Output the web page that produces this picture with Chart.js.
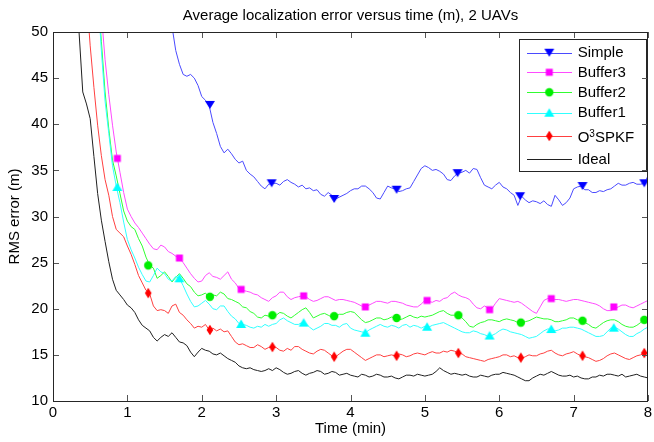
<!DOCTYPE html>
<html>
<head>
<meta charset="utf-8">
<script src="https://cdn.jsdelivr.net/npm/chart.js@4.4.1/dist/chart.umd.min.js"></script>
<style>
  html, body { margin: 0; padding: 0; background: #fff; }
  #wrap { width: 654px; height: 442px; }
</style>
</head>
<body>
<div id="wrap"><canvas id="errChart" width="654" height="442"></canvas></div>
<script>
// time axis (min)
const times = [0, 0.05, 0.1, 0.15, 0.2, 0.25, 0.3, 0.35, 0.4, 0.45,
  0.5, 0.55, 0.6, 0.65, 0.7, 0.75, 0.8, 0.85, 0.9, 0.95,
  1, 1.05, 1.1, 1.15, 1.2, 1.25, 1.3, 1.35, 1.4, 1.45,
  1.5, 1.55, 1.6, 1.65, 1.7, 1.75, 1.8, 1.85, 1.9, 1.95,
  2, 2.05, 2.1, 2.15, 2.2, 2.25, 2.3, 2.35, 2.4, 2.45,
  2.5, 2.55, 2.6, 2.65, 2.7, 2.75, 2.8, 2.85, 2.9, 2.95,
  3, 3.05, 3.1, 3.15, 3.2, 3.25, 3.3, 3.35, 3.4, 3.45,
  3.5, 3.55, 3.6, 3.65, 3.7, 3.75, 3.8, 3.85, 3.9, 3.95,
  4, 4.05, 4.1, 4.15, 4.2, 4.25, 4.3, 4.35, 4.4, 4.45,
  4.5, 4.55, 4.6, 4.65, 4.7, 4.75, 4.8, 4.85, 4.9, 4.95,
  5, 5.05, 5.1, 5.15, 5.2, 5.25, 5.3, 5.35, 5.4, 5.45,
  5.5, 5.55, 5.6, 5.65, 5.7, 5.75, 5.8, 5.85, 5.9, 5.95,
  6, 6.05, 6.1, 6.15, 6.2, 6.25, 6.3, 6.35, 6.4, 6.45,
  6.5, 6.55, 6.6, 6.65, 6.7, 6.75, 6.8, 6.85, 6.9, 6.95,
  7, 7.05, 7.1, 7.15, 7.2, 7.25, 7.3, 7.35, 7.4, 7.45,
  7.5, 7.55, 7.6, 7.65, 7.7, 7.75, 7.8, 7.85, 7.9, 7.95, 8];

// RMS error (m)
const simple = [200, 192, 185, 178, 170, 162, 155, 148, 140, 132,
  125, 118, 112, 106, 100, 95, 90, 86, 82, 78,
  75, 72, 69, 66.5, 64, 62, 60, 58, 56.5, 55,
  53.5, 52, 50.6, 48.0, 46.5, 45.4, 45.2, 45.4, 45.0, 44.2,
  43.0, 42.6, 42.0, 40.2, 39.0, 37.6, 36.9, 37.3, 36.8, 36.2,
  35.8, 36.0, 35.0, 34.6, 34.3, 33.8, 33.3, 33.0, 33.5, 33.6,
  33.6, 33.4, 33.8, 34.0, 33.7, 33.5, 33.2, 33.4, 33.0, 33.1,
  32.8, 32.9, 32.4, 32.2, 32.6, 32.3, 31.9, 32.1, 32.3, 32.5,
  32.8, 33.0, 33.0, 33.3, 33.3, 33.0, 32.6, 32.0, 31.9, 32.6,
  33.3, 33.1, 33.0, 32.7, 32.8, 33.0, 33.1, 33.8, 34.5, 35.2,
  35.5, 35.3, 35.0, 35.1, 34.9, 34.6, 34.0, 33.9, 34.4, 34.7,
  34.8, 35.0, 34.7, 35.2, 35.1, 34.2, 33.4, 33.2, 33.0, 33.4,
  33.7, 33.2, 33.0, 32.6, 32.3, 31.2, 32.2, 31.8, 31.5, 31.7,
  31.6, 31.4, 31.7, 31.3, 31.1, 32.3, 31.8, 31.2, 31.5, 32.0,
  33.0, 33.2, 33.3, 32.9, 32.9, 32.6, 32.6, 32.8, 32.7, 32.9,
  33.0, 33.3, 33.6, 33.4, 33.4, 33.6, 33.7, 33.5, 33.5, 33.6, 34.4];

const buffer3 = [125, 120, 115, 109, 103, 97, 91, 85, 79, 73.5,
  68, 62.5, 57, 52, 47, 43.2, 39.9, 37.0, 34.8, 32.6,
  30.8, 30.0, 29.3, 28.8, 28.2, 27.6, 27.0, 26.5, 26.4, 26.9,
  26.7, 26.2, 26.0, 25.7, 25.5, 25.0, 24.4, 23.8, 23.3, 22.9,
  23.0, 23.6, 23.9, 23.5, 23.4, 23.2, 23.6, 24.0, 23.2, 22.8,
  22.2, 22.0, 21.9, 21.8, 21.6, 21.5, 21.2, 21.0, 20.8, 21.2,
  21.4, 21.8, 21.8, 21.3, 21.0, 21.2, 21.3, 21.4, 21.3, 21.0,
  20.8, 20.9, 21.1, 21.3, 21.3, 21.1, 20.9, 21.0, 21.0, 20.9,
  20.8, 20.7, 20.5, 20.3, 20.2, 20.4, 20.6, 20.8, 20.8, 20.7,
  20.6, 20.8, 20.8, 20.7, 20.6, 20.4, 20.3, 20.2, 20.2, 20.5,
  20.9, 20.8, 20.7, 20.9, 20.8, 21.1, 21.2, 21.6, 21.8, 21.5,
  21.3, 21.2, 21.0, 20.5, 20.1, 20.0, 20.3, 20.1, 20.0, 20.6,
  21.1, 21.0, 20.9, 20.8, 20.7, 20.8, 20.6, 20.3, 20.0, 19.7,
  19.5, 20.2, 20.9, 21.1, 21.1, 21.0, 21.0, 20.9, 20.8, 20.9,
  21.0, 21.0, 20.9, 20.8, 20.7, 20.6, 20.5, 20.3, 20.0, 19.8,
  19.8, 20.0, 20.2, 20.4, 20.4, 20.2, 20.1, 20.3, 20.5, 20.7, 20.9];

const buffer2 = [120, 115, 110, 104, 98, 92, 86, 80, 74, 69,
  64, 59, 54.5, 49.0, 43.5, 39.5, 36.1, 34.4, 32.5, 30.6,
  29.5, 28.9, 28.6, 27.6, 26.8, 25.6, 24.7, 24.4, 23.3, 23.6,
  24.0, 23.5, 22.9, 23.4, 23.8, 23.3, 22.7, 22.4, 21.8, 21.4,
  21.5, 21.7, 21.2, 21.5, 21.4, 21.8, 21.6, 21.1, 21.0, 20.8,
  20.6, 20.2, 20.1, 19.7, 19.5, 19.1, 19.0, 19.3, 19.2, 19.4,
  19.3, 19.6, 19.5, 19.2, 19.0, 19.3, 19.6, 19.9, 20.1, 19.6,
  19.0, 19.2, 19.4, 19.5, 19.3, 19.1, 19.2, 19.4, 19.4, 19.6,
  19.7, 19.6, 19.2, 18.8, 18.5, 18.6, 18.8, 19.0, 19.0, 18.8,
  18.9, 19.1, 19.0, 18.8, 18.9, 19.1, 19.3, 19.1, 19.0, 19.2,
  19.1, 19.2, 19.3, 19.5, 19.7, 19.8, 19.5, 19.3, 19.3, 19.4,
  19.0, 18.6, 18.1, 18.0, 18.3, 18.5, 18.6, 18.8, 18.8, 18.7,
  18.6, 18.8, 18.9, 18.8, 18.7, 18.5, 18.4, 18.6, 18.7, 18.9,
  19.1, 19.0, 18.9, 18.9, 18.8, 18.6, 18.6, 18.7, 18.8, 19.0,
  19.0, 18.8, 18.7, 18.5, 18.3, 18.0, 17.9, 18.2, 18.5, 18.7,
  18.8, 18.8, 18.6, 18.3, 18.1, 18.0, 18.0, 18.2, 18.5, 18.8, 18.9];

const buffer1 = [120, 115, 110, 104, 98, 92, 86, 80, 74, 69,
  64, 59, 54.5, 48.0, 42.5, 39.0, 35.5, 33.3, 31.5, 29.4,
  27.5, 26.4, 25.5, 24.5, 23.7, 23.0, 22.9, 23.6, 24.4, 24.0,
  23.8, 23.2, 23.0, 23.5, 23.3, 22.5, 21.6, 20.8, 20.2, 20.3,
  20.6, 20.9, 20.5, 20.0, 19.9, 20.3, 20.3, 19.7, 19.2, 18.9,
  18.4, 18.3, 18.2, 18.0, 17.9, 18.1, 18.0, 18.3, 18.1, 18.3,
  18.4, 18.8, 19.0, 18.7, 18.5, 18.3, 18.3, 18.5, 18.4, 18.0,
  17.7, 17.9, 18.1, 18.4, 18.4, 18.2, 18.2, 18.0, 18.3, 18.4,
  17.9, 17.7, 17.6, 17.5, 17.4, 17.7, 17.9, 18.1, 18.3, 18.1,
  18.0, 18.2, 18.1, 17.9, 18.2, 18.3, 18.0, 18.2, 18.1, 17.9,
  18.1, 18.0, 18.2, 18.3, 18.4, 18.5, 18.3, 18.1, 17.9, 17.7,
  17.5, 17.4, 17.4, 17.6, 17.5, 17.3, 17.2, 17.0, 17.1, 17.3,
  17.6, 17.8, 17.7, 17.5, 17.4, 17.3, 17.2, 17.0, 16.8, 16.9,
  17.0, 17.3, 17.6, 17.8, 17.8, 17.6, 17.7, 17.9, 17.9, 18.0,
  18.0, 17.9, 17.8, 17.6, 17.4, 17.2, 17.0, 17.0, 17.1, 17.5,
  17.9, 18.0, 17.8, 17.5, 17.2, 17.0, 17.0, 17.3, 17.5, 17.8, 18.0];

const o3spkf = [110, 104, 98, 91, 85, 78, 72, 66, 60, 54,
  48.5, 44.0, 39.9, 36.6, 34.0, 32.3, 30.0, 28.6, 28.2, 27.8,
  26.8, 25.9, 24.8, 23.6, 22.8, 22.0, 21.6, 20.3, 19.8, 19.9,
  19.8, 19.5, 20.3, 20.5, 19.6, 19.3, 18.8, 18.4, 17.9, 18.1,
  18.0, 18.3, 17.7, 17.9, 17.6, 17.8, 17.5, 17.6, 17.0, 16.4,
  16.1, 16.2, 16.0, 15.8, 15.8, 16.1, 15.9, 15.6, 15.8, 15.9,
  15.8, 15.5, 15.4, 15.7, 15.5, 15.9, 15.9, 15.6, 15.4, 15.2,
  15.1, 15.4, 15.6, 15.5, 15.2, 14.9, 14.8, 15.1, 15.4, 15.6,
  15.6, 15.3, 15.0, 14.7, 14.4, 14.6, 14.8, 15.0, 15.0, 14.8,
  14.9, 15.0, 14.9, 15.1, 15.0, 14.8, 14.9, 15.1, 15.2, 15.1,
  15.0, 15.2, 15.35, 15.2, 15.2, 15.4, 15.3, 15.5, 15.4, 15.2,
  15.1, 14.8, 14.7, 14.6, 14.5, 14.4, 14.3, 14.5, 14.6, 14.7,
  14.8, 15.0, 15.0, 14.8, 14.9, 14.7, 14.6, 14.8, 15.0, 14.9,
  14.9, 15.1, 15.2, 15.4, 15.5, 15.2, 15.0, 14.9, 15.1, 15.2,
  15.35, 15.1, 14.9, 14.8, 14.7, 14.5, 14.3, 14.4, 14.6, 14.9,
  15.1, 15.2, 15.0, 14.8, 14.6, 14.5, 14.7, 14.9, 15.0, 15.2, 15.3];

const ideal = [95, 88, 82, 76, 70, 64, 58, 50, 43.5, 42.2,
  40.6, 36.5, 32.5, 29.6, 27.3, 25.1, 23.2, 22.0, 21.5, 21.0,
  20.4, 20.1, 19.6, 18.8, 18.2, 17.9, 17.6, 16.9, 16.5, 16.9,
  17.2, 17.0, 17.4, 16.9, 16.4, 16.3, 16.0, 15.3, 14.8, 15.3,
  15.7, 15.5, 15.4, 15.1, 15.0, 15.2, 14.9, 14.6, 14.4, 14.2,
  13.8, 13.6, 13.5, 13.6, 13.4, 13.3, 13.2, 13.3, 13.5, 13.3,
  13.6, 13.4, 13.1, 12.9, 13.0, 13.2, 13.3, 13.0, 12.8, 13.0,
  13.1, 13.3, 13.2, 12.9, 13.0, 13.2, 13.1, 12.8, 12.9, 13.0,
  12.8, 12.7, 12.6, 12.9, 12.8, 12.6, 12.7, 12.9, 12.8, 12.6,
  12.6, 12.7, 12.5, 12.4, 12.6, 12.8, 12.8, 12.7, 12.9, 12.8,
  12.7, 12.8, 12.9, 13.2, 13.6, 13.3, 13.1, 12.9, 13.0, 12.9,
  12.8, 12.9, 12.7, 12.6, 12.6, 12.8, 12.7, 12.6, 12.8, 12.9,
  12.9, 13.1, 13.0, 12.9, 12.8, 12.6, 12.4, 12.2, 12.2, 12.5,
  12.7, 12.9, 12.8, 13.0, 13.2, 13.0, 12.8, 12.7, 12.7, 12.8,
  12.6, 12.7, 12.5, 12.4, 12.4, 12.6, 12.6, 12.8, 12.7, 12.9,
  12.9, 12.8, 12.7, 12.9, 12.6, 12.7, 12.8, 12.9, 12.7, 12.6, 12.5];

// marker positions (every ~0.83 min along each curve)
const simpleMarkT = [2.11, 2.94, 3.78, 4.62, 5.44, 6.28, 7.12, 7.95];
const simpleMarkV = [42.1, 33.6, 31.9, 32.9, 34.7, 32.2, 33.3, 33.6];
const buffer3MarkT = [0.865, 1.70, 2.53, 3.37, 4.20, 5.03, 5.87, 6.70, 7.54];
const buffer3MarkV = [36.3, 25.5, 22.1, 21.4, 20.2, 20.9, 19.9, 21.1, 20.2];
const buffer2MarkT = [1.28, 2.11, 2.95, 3.78, 4.62, 5.45, 6.29, 7.12, 7.95];
const buffer2MarkV = [24.7, 21.3, 19.3, 19.2, 19.0, 19.3, 18.5, 18.7, 18.8];
const buffer1MarkT = [0.865, 1.70, 2.53, 3.37, 4.20, 5.03, 5.87, 6.70, 7.54];
const buffer1MarkV = [33.2, 23.3, 18.35, 18.5, 17.4, 18.05, 17.1, 17.8, 17.95];
const o3spkfMarkT = [1.28, 2.11, 2.95, 3.78, 4.62, 5.45, 6.29, 7.12, 7.95];
const o3spkfMarkV = [21.7, 17.7, 15.85, 14.8, 14.9, 15.2, 14.7, 14.9, 15.2];

const xTickValues = [0, 1, 2, 3, 4, 5, 6, 7, 8];
const yTickValues = [10, 15, 20, 25, 30, 35, 40, 45, 50];

const titleText = 'Average localization error versus time (m), 2 UAVs';
const FONT = '"Liberation Sans", Arial, Helvetica, sans-serif';

// small canvases used as marker glyphs (shared by plot and legend)
function makeMarker(shape, color) {
  const c = document.createElement('canvas');
  c.width = 12; c.height = 12;
  const g = c.getContext('2d');
  g.fillStyle = color;
  g.beginPath();
  if (shape === 'tdown') {
    g.moveTo(1, 2); g.lineTo(11, 2); g.lineTo(6, 10);
  } else if (shape === 'tup') {
    g.moveTo(6, 1.5); g.lineTo(11, 10); g.lineTo(1, 10);
  } else if (shape === 'square') {
    g.rect(2.5, 2.5, 7, 7);
  } else if (shape === 'circle') {
    g.arc(6, 6, 4.2, 0, Math.PI * 2);
  } else if (shape === 'diamond') {
    g.moveTo(6, 0.8); g.lineTo(9.3, 6); g.lineTo(6, 11.2); g.lineTo(2.7, 6);
  }
  g.closePath();
  g.fill();
  return c;
}

const series = [
  { name: 'Simple', data: simple, line: '#4a4aff', markT: simpleMarkT, markV: simpleMarkV, marker: makeMarker('tdown', '#0000ff') },
  { name: 'Buffer3', data: buffer3, line: '#ff4aff', markT: buffer3MarkT, markV: buffer3MarkV, marker: makeMarker('square', '#ff00ff') },
  { name: 'Buffer2', data: buffer2, line: '#30ff30', markT: buffer2MarkT, markV: buffer2MarkV, marker: makeMarker('circle', '#00ee00') },
  { name: 'Buffer1', data: buffer1, line: '#30ffff', markT: buffer1MarkT, markV: buffer1MarkV, marker: makeMarker('tup', '#00ffff') },
  { name: 'O3SPKF', data: o3spkf, line: '#ff4040', markT: o3spkfMarkT, markV: o3spkfMarkV, marker: makeMarker('diamond', '#ff0000') },
  { name: 'Ideal', data: ideal, line: '#202020', markT: [], markV: [], marker: null }
];

const datasets = [];
series.forEach((s, k) => {
  datasets.push({
    type: 'line',
    label: s.name,
    data: times.map((t, i) => ({ x: t, y: s.data[i] })),
    borderColor: s.line,
    borderWidth: 1,
    pointRadius: 0,
    fill: false,
    tension: 0,
    order: 10 - k
  });
  if (s.marker) {
    datasets.push({
      type: 'scatter',
      label: s.name + ' markers',
      data: s.markT.map((t, i) => ({ x: t, y: s.markV[i] })),
      pointStyle: s.marker,
      pointRadius: 5,
      pointHoverRadius: 5,
      showLine: false,
      order: 0
    });
  }
});

// title centred over the axes, like MATLAB does
const axesTitle = {
  id: 'axesTitle',
  afterDraw(chart) {
    const { ctx, chartArea: a } = chart;
    ctx.save();
    ctx.font = '15px ' + FONT;
    ctx.fillStyle = '#000';
    ctx.textAlign = 'center';
    ctx.textBaseline = 'middle';
    ctx.fillText(titleText, (a.left + a.right) / 2, 16);
    ctx.restore();
  }
};

// MATLAB style legend box
const matlabLegend = {
  id: 'matlabLegend',
  afterDraw(chart) {
    const ctx = chart.ctx;
    const box = { x: 519.5, y: 39.5, w: 127, h: 132 };
    const rows = [52.7, 72.3, 92.3, 112.7, 136, 159.3];
    ctx.save();
    ctx.fillStyle = '#fff';
    ctx.fillRect(box.x, box.y, box.w, box.h);
    ctx.strokeStyle = '#262626';
    ctx.lineWidth = 1;
    ctx.strokeRect(box.x, box.y, box.w, box.h);
    series.forEach((s, k) => {
      const y = rows[k];
      ctx.strokeStyle = s.line;
      ctx.beginPath();
      ctx.moveTo(527, Math.round(y) + 0.5);
      ctx.lineTo(572, Math.round(y) + 0.5);
      ctx.stroke();
      if (s.marker) ctx.drawImage(s.marker, 549.3 - 6, y - 6);
      ctx.fillStyle = '#000';
      ctx.textAlign = 'left';
      ctx.textBaseline = 'middle';
      if (s.name === 'O3SPKF') {
        ctx.font = '15px ' + FONT;
        ctx.fillText('O', 577.7, y + 1.7);
        const w1 = ctx.measureText('O').width;
        ctx.font = '10px ' + FONT;
        ctx.fillText('3', 577.7 + w1, y - 1.5);
        const w2 = ctx.measureText('3').width;
        ctx.font = '15px ' + FONT;
        ctx.fillText('SPKF', 577.7 + w1 + w2, y + 1.7);
      } else {
        ctx.font = '15px ' + FONT;
        ctx.fillText(s.name, 577.7, y + 0.5);
      }
    });
    ctx.restore();
  }
};

// box around the axes and inward ticks on all four sides
const matlabFrame = {
  id: 'matlabFrame',
  afterDraw(chart) {
    const { ctx, chartArea: a, scales: { x, y } } = chart;
    ctx.save();
    ctx.strokeStyle = '#555';
    ctx.lineWidth = 1;
    ctx.beginPath();
    xTickValues.forEach(v => {
      const px = Math.round(x.getPixelForValue(v)) + 0.5;
      ctx.moveTo(px, a.bottom); ctx.lineTo(px, a.bottom - 6);
      ctx.moveTo(px, a.top); ctx.lineTo(px, a.top + 6);
    });
    yTickValues.forEach(v => {
      const py = Math.round(y.getPixelForValue(v)) + 0.5;
      ctx.moveTo(a.left, py); ctx.lineTo(a.left + 6, py);
      ctx.moveTo(a.right, py); ctx.lineTo(a.right - 6, py);
    });
    ctx.stroke();
    ctx.strokeStyle = '#262626';
    ctx.strokeRect(Math.round(a.left) + 0.5, Math.round(a.top) + 0.5,
      Math.round(a.right - a.left) - 1, Math.round(a.bottom - a.top));
    ctx.restore();
  }
};

Chart.defaults.font.family = FONT;
Chart.defaults.font.size = 15;
Chart.defaults.color = '#000';

new Chart(document.getElementById('errChart'), {
  type: 'line',
  data: { datasets },
  options: {
    responsive: false,
    animation: false,
    events: [],
    devicePixelRatio: 1,
    layout: { padding: { left: 0, right: 3, top: 32, bottom: 0 } },
    plugins: {
      legend: { display: false },
      tooltip: { enabled: false },
      title: { display: false }
    },
    scales: {
      x: {
        type: 'linear',
        min: 0, max: 8,
        grid: { display: false, drawTicks: false },
        border: { display: false },
        ticks: { padding: 3, autoSkip: false, maxRotation: 0 },
        afterBuildTicks: s => { s.ticks = xTickValues.map(v => ({ value: v })); },
        afterFit: s => { s.height = 41; s.paddingLeft = 0; s.paddingRight = 0; },
        title: { display: true, text: 'Time (min)', font: { size: 15, lineHeight: 1.2 }, padding: { top: 0, bottom: 4 } }
      },
      y: {
        min: 10, max: 50,
        grid: { display: false, drawTicks: false },
        border: { display: false },
        ticks: { padding: 5, autoSkip: false },
        afterBuildTicks: s => { s.ticks = yTickValues.map(v => ({ value: v })); },
        afterFit: s => { s.width = 53; s.paddingTop = 0; s.paddingBottom = 0; },
        title: { display: true, text: 'RMS error (m)', font: { size: 15, lineHeight: 1.2 }, padding: { top: 6, bottom: 0 } }
      }
    }
  },
  plugins: [axesTitle, matlabLegend, matlabFrame]
});
</script>
</body>
</html>
